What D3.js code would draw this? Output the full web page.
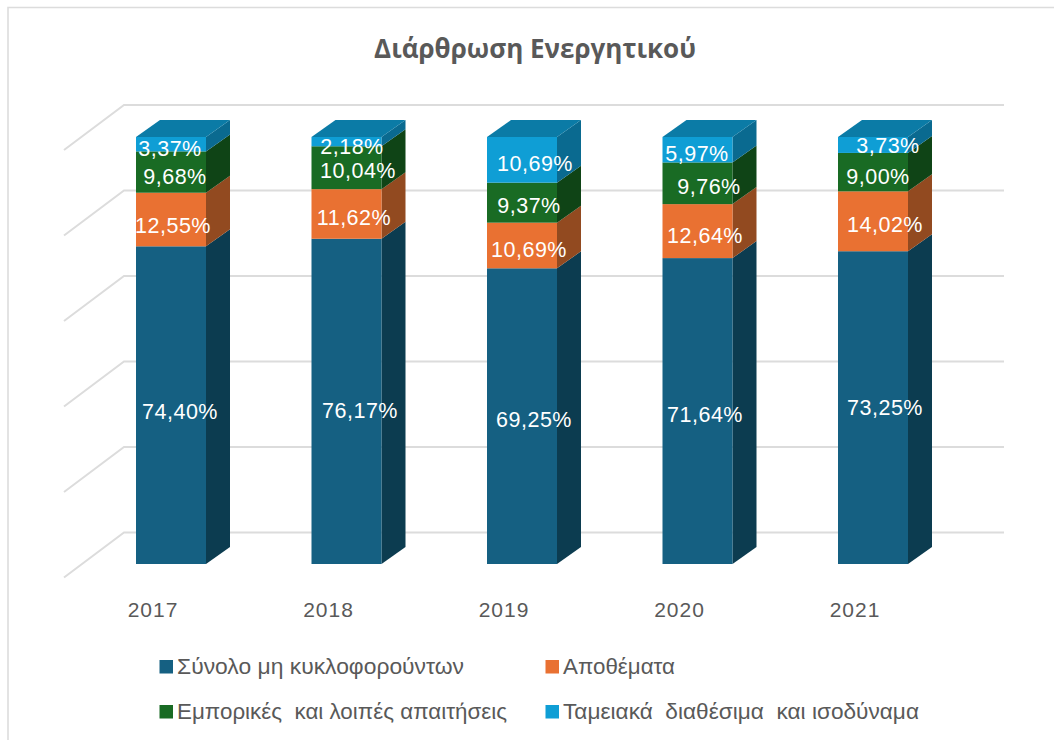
<!DOCTYPE html>
<html>
<head>
<meta charset="utf-8">
<script src="https://cdn.jsdelivr.net/npm/d3@7"></script>
<style>
  html, body { margin: 0; padding: 0; background: #fff; }
  svg { display: block; font-family: "Liberation Sans", sans-serif; }
</style>
</head>
<body>
<svg width="1054" height="740"></svg>
<script>
const years = ['2017', '2018', '2019', '2020', '2021'];
const seriesNames = ['Σύνολο μη κυκλοφορούντων', 'Αποθέματα', 'Εμπορικές  και λοιπές απαιτήσεις', 'Ταμειακά  διαθέσιμα  και ισοδύναμα'];
const fixedAssets = [74.40, 76.17, 69.25, 71.64, 73.25];
const inventories = [12.55, 11.62, 10.69, 12.64, 14.02];
const receivables = [9.68, 10.04, 9.37, 9.76, 9.00];
const cash = [3.37, 2.18, 10.69, 5.97, 3.73];
const yTicks = [0, 20, 40, 60, 80, 100];

// colours: front, side (darker), top
const frontColors = ['#156082', '#e97132', '#196b24', '#0f9ed5'];
const sideColors = ['#0c3c50', '#924a20', '#0f4416', '#0a6a90'];
const topColor = '#0b7ba6';

// the labels were dragged around by hand in the original, [dx, dy] per year and series
const labelShift = [
  [[9, 6], [13.5, 9], [12, 3], [7.5, 3], [12, -0.6]],
  [[2, 5.5], [7.5, 4], [7, 3.5], [7.5, 4], [12, 2.7]],
  [[4, 4], [11.5, 3], [7, 2.5], [11.5, 2.7], [5, 3.9]],
  [[-1, 4], [5.5, 4.5], [13, 4], [-0.5, 3.3], [15, 1]]
];

const seriesValues = [fixedAssets, inventories, receivables, cash];
const stacked = d3.stack().keys([0, 1, 2, 3]).value((d, k) => seriesValues[k][d])(d3.range(years.length));

const svg = d3.select('svg');

// frame
svg.append('path')
  .attr('d', 'M8,740V7.5H1054')
  .attr('fill', 'none').attr('stroke', '#dcdcdc').attr('stroke-width', 1.6);

svg.append('text')
  .attr('x', 535).attr('y', 58)
  .attr('text-anchor', 'middle')
  .attr('font-family', '"Open Sans", sans-serif')
  .attr('font-weight', 700).attr('font-size', 26)
  .attr('fill', '#595959')
  .text('Διάρθρωση Ενεργητικού');

const xScale = d3.scaleBand()
  .domain(years)
  .range([136, 908])
  .paddingInner(1 - 70 / 175.5)
  .paddingOuter(0);

const yScale = d3.scaleLinear()
  .domain([0, 100])
  .range([564, 137]);

// back wall sits behind the front plane of the bars
const gridY = d3.scaleLinear().domain([0, 100]).range([532.5, 105]);
const depthX = 24, depthY = 17;

// gridlines
svg.append('g').selectAll('path')
  .data(yTicks)
  .enter()
  .append('path')
  .attr('d', d => `M64,${gridY(d) + 45}L124,${gridY(d)}H1004`)
  .attr('fill', 'none')
  .attr('stroke', '#dcdcdc')
  .attr('stroke-width', 2);

const bars = svg.append('g').selectAll('g')
  .data(stacked)
  .enter()
  .append('g');

// right side faces
bars.selectAll('.side')
  .data(s => s.map((d, i) => ({ y0: d[0], y1: d[1], i: i, k: s.key })))
  .enter()
  .append('path')
  .attr('class', 'side')
  .attr('fill', d => sideColors[d.k])
  .attr('d', d => {
    const x1 = xScale(years[d.i]) + xScale.bandwidth();
    return `M${x1},${yScale(d.y0)}L${x1 + depthX},${yScale(d.y0) - depthY}V${yScale(d.y1) - depthY}L${x1},${yScale(d.y1)}Z`;
  });

// front faces
bars.selectAll('rect')
  .data(s => s.map((d, i) => ({ y0: d[0], y1: d[1], i: i, k: s.key })))
  .enter()
  .append('rect')
  .attr('x', d => xScale(years[d.i]))
  .attr('width', xScale.bandwidth())
  .attr('y', d => yScale(d.y1))
  .attr('height', d => yScale(d.y0) - yScale(d.y1))
  .attr('fill', d => frontColors[d.k]);

// top cap of the last series
svg.append('g').selectAll('path')
  .data(stacked[3].map((d, i) => ({ y1: d[1], i: i })))
  .enter()
  .append('path')
  .attr('fill', topColor)
  .attr('d', d => {
    const x0 = xScale(years[d.i]);
    const w = xScale.bandwidth();
    const y = yScale(d.y1);
    return `M${x0},${y}L${x0 + depthX},${y - depthY}H${x0 + w + depthX}L${x0 + w},${y}Z`;
  });

// data labels
svg.append('g').selectAll('g')
  .data(stacked)
  .enter()
  .append('g')
  .selectAll('text')
  .data(s => s.map((d, i) => ({ y0: d[0], y1: d[1], i: i, k: s.key })))
  .enter()
  .append('text')
  .attr('x', d => xScale(years[d.i]) + xScale.bandwidth() / 2 + labelShift[d.k][d.i][0])
  .attr('y', d => yScale((d.y0 + d.y1) / 2) + labelShift[d.k][d.i][1])
  .attr('dy', '0.35em')
  .attr('text-anchor', 'middle')
  .attr('font-size', 21.5)
  .attr('letter-spacing', 0.5)
  .attr('fill', '#fff')
  .text(d => seriesValues[d.k][d.i].toFixed(2).replace('.', ',') + '%');

// year labels
const xAxis = d3.axisBottom(xScale).tickSize(0).tickPadding(0);
const axisG = svg.append('g')
  .attr('transform', 'translate(-18,602)')
  .call(xAxis);
axisG.select('.domain').remove();
axisG.selectAll('text')
  .attr('font-family', '"Liberation Sans", sans-serif')
  .attr('font-size', 21)
  .attr('letter-spacing', 1)
  .attr('fill', '#595959');

// legend
const legendX = [159, 545];
const legendY = [667, 712];
const legendWidth = [287, 112, 330, 356];
const legend = svg.append('g').selectAll('g')
  .data(seriesNames)
  .enter()
  .append('g')
  .attr('transform', (d, i) => `translate(${legendX[i % 2]},${legendY[Math.floor(i / 2)]})`);

legend.append('rect')
  .attr('x', 0.5).attr('y', -7).attr('width', 13.5).attr('height', 13.5)
  .attr('fill', (d, i) => frontColors[i]);

legend.append('text')
  .attr('x', 18)
  .attr('y', 7)
  .attr('font-size', 22.5)
  .attr('fill', '#595959')
  .attr('xml:space', 'preserve')
  .style('white-space', 'pre')
  .attr('textLength', (d, i) => legendWidth[i])
  .attr('lengthAdjust', 'spacingAndGlyphs')
  .text(d => d);
</script>
</body>
</html>
